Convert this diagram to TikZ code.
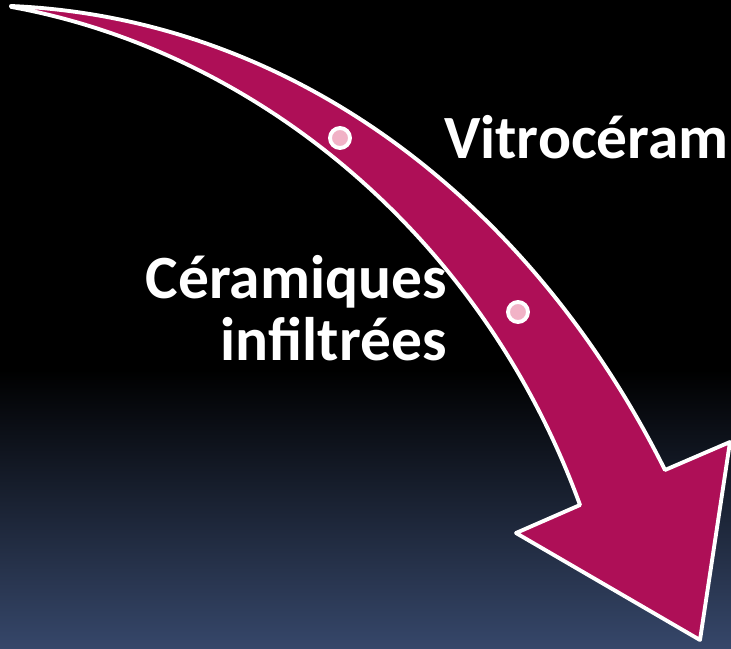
\documentclass[tikz,border=0pt]{standalone}
\usepackage{fontspec}
\setmainfont{Carlito}
\definecolor{cmagenta}{RGB}{174,15,87}
\definecolor{cpink}{RGB}{241,178,198}
\definecolor{cnight}{RGB}{54,71,106}
\tikzset{
  arrowbody/.style={   % big curved arrow
    draw=white, fill=cmagenta, line width=2.2pt, line join=round
  },
  stepdot/.style={     % pink step marker
    circle, draw=white, fill=cpink, line width=2.2pt,
    minimum size=0.40cm, inner sep=0pt
  },
  labeltext/.style={   % white slide text
    text=white, font=\fontsize{35}{35}\selectfont\bfseries, inner sep=0pt
  },
}

\begin{document}
\begin{tikzpicture}[x=0.02cm, y=-0.02cm]

\useasboundingbox (0,0) rectangle (731,649);
\clip (0,0) rectangle (731,649);

%% ─── Background ──────────────────────────────────────────────────────────────
\fill[black] (0,0) rectangle (731,371);
\shade[top color=black, bottom color=cnight] (0,370) rectangle (731,649);

%% ─── Curved arrow ────────────────────────────────────────────────────────────
\coordinate (tail)  at (11,6);
\coordinate (notchR) at (665,470);
\coordinate (wingR) at (730,442);
\coordinate (tip)   at (700,640);
\coordinate (wingL) at (516,533);
\coordinate (notchL) at (580,505);

\draw[arrowbody]
  (tail) .. controls (288,18) and (528,196) .. (notchR)
  -- (wingR) -- (tip) -- (wingL) -- (notchL)
  .. controls (480,230) and (250,50) .. ([yshift=-0.5]tail)
  -- cycle;

% Step markers along the arrow
\node[stepdot] (dot1) at (340,138) {};
\node[stepdot] (dot2) at (518,312) {};

%% ─── Labels ──────────────────────────────────────────────────────────────────
\node[labeltext, anchor=base east] (vitro) at (729,158) {Vitrocéram};
\node[labeltext, anchor=base east] (ceram) at (447,298) {Céramiques};
\node[labeltext, anchor=base east] (infil) at (447,360) {infiltrées};

\end{tikzpicture}
\end{document}
